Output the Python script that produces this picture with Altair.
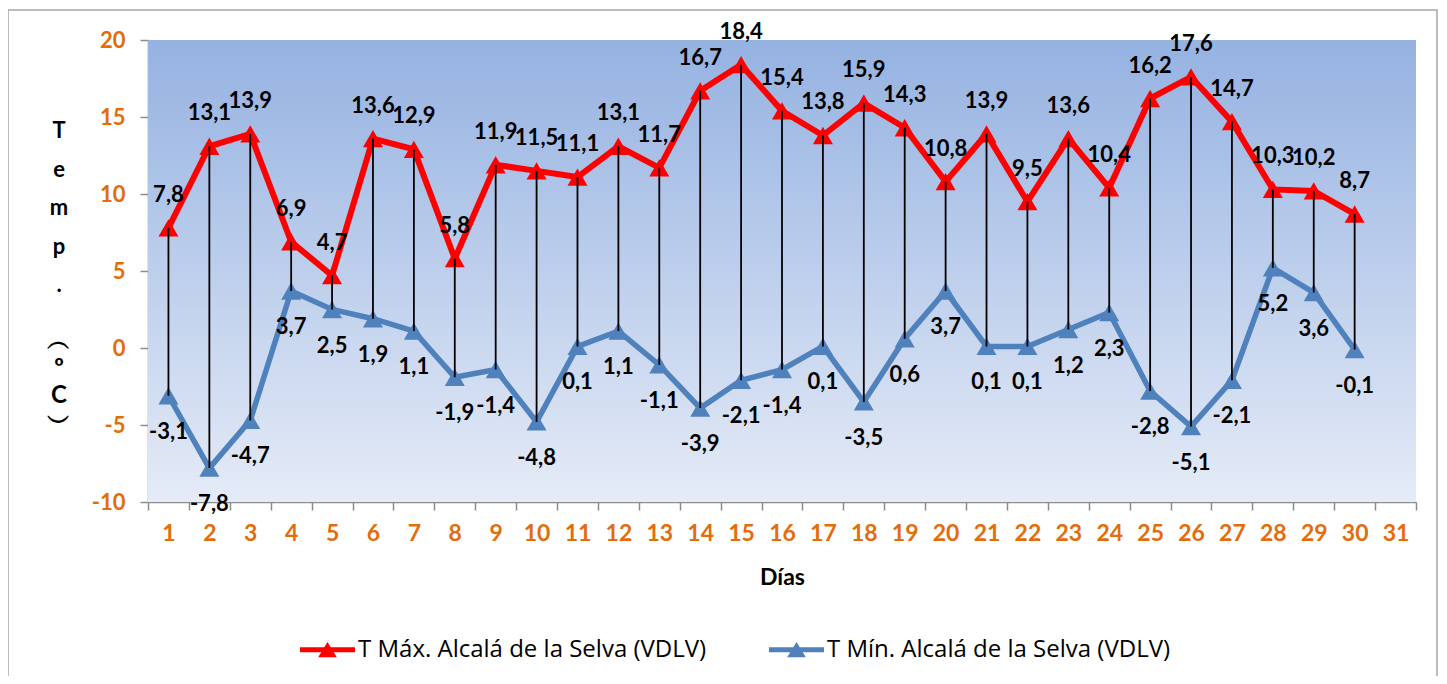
import altair as alt
import pandas as pd

days = list(range(1, 31))
all_days = [str(d) for d in range(1, 32)]
t_max = [7.8, 13.1, 13.9, 6.9, 4.7, 13.6, 12.9, 5.8, 11.9, 11.5, 11.1, 13.1, 11.7, 16.7, 18.4,
         15.4, 13.8, 15.9, 14.3, 10.8, 13.9, 9.5, 13.6, 10.4, 16.2, 17.6, 14.7, 10.3, 10.2, 8.7]
t_min = [-3.1, -7.8, -4.7, 3.7, 2.5, 1.9, 1.1, -1.9, -1.4, -4.8, 0.1, 1.1, -1.1, -3.9, -2.1,
         -1.4, 0.1, -3.5, 0.6, 3.7, 0.1, 0.1, 1.2, 2.3, -2.8, -5.1, -2.1, 5.2, 3.6, -0.1]
series_names = ["T Máx. Alcalá de la Selva (VDLV)", "T Mín. Alcalá de la Selva (VDLV)"]
series_colors = ["#ff0000", "#4f81bd"]
y_title_top = ["T", "e", "m", "p", "."]
y_title_bottom = ["\ufe35", "º", "C", "\ufe36"]

FONT = "Lato"
ORANGE = "#e46c0a"
W, H = 1268, 462

wide = pd.DataFrame({"day": [str(d) for d in days], "tmax": t_max, "tmin": t_min})
long = pd.concat([
    pd.DataFrame({"day": [str(d) for d in days], "series": series_names[0], "value": t_max}),
    pd.DataFrame({"day": [str(d) for d in days], "series": series_names[1], "value": t_min}),
])

xenc = alt.X("day:O", scale=alt.Scale(domain=all_days, paddingInner=0, paddingOuter=0),
             axis=alt.Axis(title="Días", labelAngle=0, tickBand="extent", labelFontSize=23,
                           labelFontWeight="bold", labelColor=ORANGE, labelFont=FONT,
                           labelPadding=12, tickSize=8, titleFont=FONT, titleFontSize=23,
                           titleFontWeight="bold", titleColor="black", titlePadding=21,
                           domainColor="#8c8c8c", tickColor="#8c8c8c", domainWidth=1.5,
                           tickWidth=1.5))
yscale = alt.Scale(domain=[-10, 20], nice=False, zero=False)
yaxis = alt.Axis(values=[-10, -5, 0, 5, 10, 15, 20], grid=False, labelFontSize=22,
                 labelFontWeight="bold", labelColor=ORANGE, labelFont=FONT, labelPadding=15,
                 labelExpr="'' + datum.value",
                 tickSize=8, domainColor="#8c8c8c", tickColor="#8c8c8c", domainWidth=1.5,
                 tickWidth=1.5, title=None)

one = pd.DataFrame({"a": [0]})
bg = alt.Chart(one).mark_rect(
    fill=alt.LinearGradient(gradient="linear", x1=0, x2=0, y1=0, y2=1,
                            stops=[alt.GradientStop(offset=0, color="#95b2e1"),
                                   alt.GradientStop(offset=1, color="#e5ebf7")])
).encode(x=alt.value(0), x2=alt.value(W), y=alt.value(0), y2=alt.value(H))

border = alt.Chart(one).mark_rect(filled=False, stroke="#a6a6a6", strokeWidth=1.5).encode(
    x=alt.value(-140), x2=alt.value(1289), y=alt.value(-30), y2=alt.value(720))

ytitle1 = alt.Chart(one).mark_text(font=FONT, fontSize=22, fontWeight="bold", color="black",
                                   align="center", baseline="top", lineHeight=38.5).encode(
    x=alt.value(-89), y=alt.value(81), text=alt.value(y_title_top))
ytitle2 = alt.Chart(one).mark_text(font=FONT, fontSize=24, fontWeight="bold", color="black",
                                   align="center", baseline="top", lineHeight=27).encode(
    x=alt.value(-89), y=alt.value(290), text=alt.value(y_title_bottom))

cscale = alt.Scale(domain=series_names, range=series_colors)

line_max = alt.Chart(long).transform_filter(
    alt.datum.series == series_names[0]
).mark_line(strokeWidth=6, color=series_colors[0]).encode(
    x=xenc, y=alt.Y("value:Q", scale=yscale, axis=yaxis))
line_min = alt.Chart(long).transform_filter(
    alt.datum.series == series_names[1]
).mark_line(strokeWidth=5.5, color=series_colors[1]).encode(
    x=xenc, y=alt.Y("value:Q", scale=yscale))

legend = alt.Legend(title=None, orient="none", legendX=152, legendY=582, direction="horizontal",
                    symbolType="M-1,-0.09L1,-0.09L1,0.09L-1,0.09Z M-0.34,0.27L0,-0.28L0.34,0.27Z",
                    symbolSize=3025, symbolStrokeWidth=0, symbolOpacity=1,
                    labelFont="Open Sans", labelFontSize=24, labelColor="black", labelLimit=0,
                    labelOffset=3, columnPadding=62, padding=0)

points = alt.Chart(long).mark_point(shape="triangle-up", filled=True, size=400, opacity=1).encode(
    x=xenc, y=alt.Y("value:Q", scale=yscale),
    color=alt.Color("series:N", scale=cscale, legend=legend))

rules = alt.Chart(wide).mark_rule(color="black", strokeWidth=1.8).encode(
    x=xenc, y=alt.Y("tmax:Q", scale=yscale), y2="tmin:Q")

fmt = "replace(replace(format(datum.{f}, '.1f'), '.', ','), '\u2212', '-')"
lab_max = alt.Chart(wide).transform_calculate(lab=fmt.format(f="tmax")).mark_text(
    dy=-33, font=FONT, fontSize=22, fontWeight="bold", color="black").encode(
    x=xenc, y=alt.Y("tmax:Q", scale=yscale), text="lab:N")

lab_min = alt.Chart(wide).transform_calculate(lab=fmt.format(f="tmin")).mark_text(
    dy=36, font=FONT, fontSize=22, fontWeight="bold", color="black").encode(
    x=xenc, y=alt.Y("tmin:Q", scale=yscale), text="lab:N")

chart = alt.layer(bg, line_max, line_min, points, rules, lab_max, lab_min,
                  ytitle1, ytitle2, border).properties(
    width=W, height=H,
    autosize=alt.AutoSizeParams(type="none"),
    padding={"left": 140, "top": 32, "right": 23, "bottom": 174},
    background="white",
).configure_view(stroke=None)

chart.save("out.html", embed_options={"renderer": "svg", "actions": False})
